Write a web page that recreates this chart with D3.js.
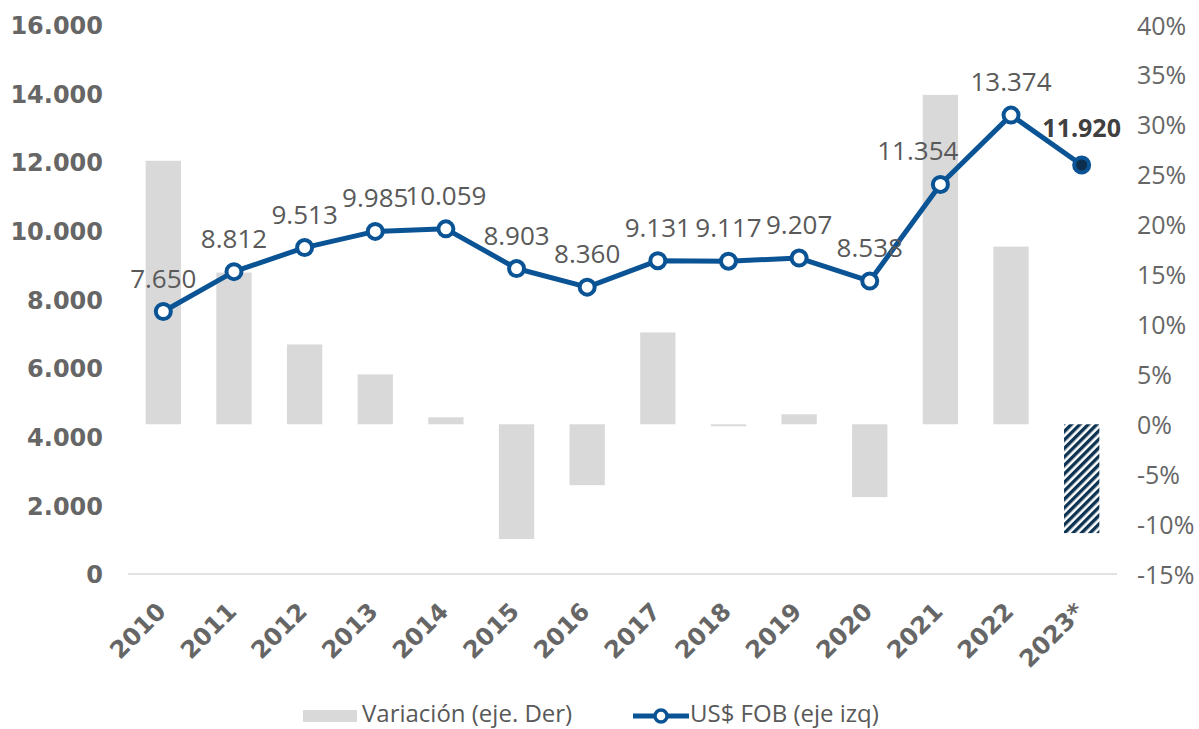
<!DOCTYPE html>
<html><head><meta charset="utf-8">
<script src="https://cdn.jsdelivr.net/npm/d3@7"></script>
<style>body{margin:0;background:#fff}svg{display:block}</style>
</head><body>
<svg id="c" width="1199" height="729"></svg>
<script>
const years = ["2010","2011","2012","2013","2014","2015","2016","2017","2018","2019","2020","2021","2022","2023*"];
const fob = [7650,8812,9513,9985,10059,8903,8360,9131,9117,9207,8538,11354,13374,11920];
const variacion = [26.4,15.2,8.0,5.0,0.7,-11.5,-6.1,9.2,-0.2,1.0,-7.3,33.0,17.8,-10.9];
const leftTicks = [0,2000,4000,6000,8000,10000,12000,14000,16000];
const rightTicks = [-15,-10,-5,0,5,10,15,20,25,30,35,40];

const svg = d3.select("#c");
const BOLD = "DejaVu Sans, sans-serif";
const LIGHT = "Open Sans, sans-serif";
const x = d3.scaleBand().domain(years).range([128,1117]).paddingInner(0.5).paddingOuter(0.25);
const yL = d3.scaleLinear().domain([0,16000]).range([574,25]);
const yR = d3.scaleLinear().domain([-15,40]).range([574,25]);
const fmt = v => d3.format(",")(v).replace(/,/g,".");

// hatch pattern
const defs = svg.append("defs");
const pat = defs.append("pattern").attr("id","hatch").attr("patternUnits","userSpaceOnUse")
  .attr("width",6).attr("height",6).attr("patternTransform","rotate(45)");
pat.append("rect").attr("width",6).attr("height",6).attr("fill","#fff");
pat.append("rect").attr("width",3.4).attr("height",6).attr("fill","#0d3352");

// bars
svg.append("g").selectAll("rect").data(years).join("rect")
  .attr("x",d=>x(d)).attr("width",x.bandwidth())
  .attr("y",(d,i)=>yR(Math.max(0,variacion[i])))
  .attr("height",(d,i)=>Math.max(1,Math.abs(yR(variacion[i])-yR(0))))
  .attr("fill",(d,i)=>i===years.length-1?"url(#hatch)":"#d9d9d9");

// x axis line
svg.append("line").attr("x1",128).attr("x2",1117).attr("y1",yL(0)).attr("y2",yL(0))
  .attr("stroke","#d9d9d9").attr("stroke-width",1.5);

// left axis
const la = svg.append("g").attr("transform","translate(103,0)")
  .call(d3.axisLeft(yL).tickValues(leftTicks).tickFormat(fmt).tickSize(0).tickPadding(0));
la.select(".domain").remove();
la.selectAll("text").attr("font-family",BOLD).attr("font-weight","bold").attr("font-size",24)
  .attr("fill","#666").attr("dy","0.36em");

// right axis
const ra = svg.append("g").attr("transform","translate(1137,0)")
  .call(d3.axisRight(yR).tickValues(rightTicks).tickFormat(d=>d+"%").tickSize(0).tickPadding(0));
ra.select(".domain").remove();
ra.selectAll("text").attr("font-family",LIGHT).attr("font-size",25).attr("fill","#666").attr("dy","0.36em");

// x labels
const xa = svg.append("g").attr("transform",`translate(0,${yL(0)})`)
  .call(d3.axisBottom(x).tickSize(0).tickPadding(0));
xa.select(".domain").remove();
xa.selectAll("text").attr("font-family",BOLD).attr("font-weight","bold").attr("font-size",24)
  .attr("fill","#666").attr("text-anchor","end").attr("y",0).attr("dy",0)
  .attr("transform","translate(4,39) rotate(-45)");

// line
const cx = d => x(d)+x.bandwidth()/2;
const line = d3.line().x((d,i)=>cx(years[i])).y(d=>yL(d));
svg.append("path").datum(fob).attr("d",line).attr("fill","none")
  .attr("stroke","#0a5394").attr("stroke-width",5).attr("stroke-linejoin","round");
svg.append("g").selectAll("circle").data(fob).join("circle")
  .attr("cx",(d,i)=>cx(years[i])).attr("cy",d=>yL(d)).attr("r",7.5)
  .attr("fill",(d,i)=>i===fob.length-1?"#0d2f4d":"#fff")
  .attr("stroke","#0a5394").attr("stroke-width",4);

// data labels
const last = fob.length-1;
svg.append("g").selectAll("text").data(fob).join("text")
  .attr("x",(d,i)=>years[i]==="2021"?cx(years[i])+18:cx(years[i]))
  .attr("y",(d,i)=>i===last?yL(d)-28:yL(d)-24)
  .attr("text-anchor",(d,i)=>years[i]==="2021"?"end":"middle")
  .attr("font-family",LIGHT)
  .attr("font-size",(d,i)=>i===last?25:26)
  .attr("font-weight",(d,i)=>i===last?"bold":"normal")
  .attr("fill",(d,i)=>i===last?"#404040":"#595959")
  .text(fmt);

// legend
const lg = svg.append("g");
lg.append("rect").attr("x",303).attr("y",710).attr("width",54).attr("height",12).attr("fill","#d9d9d9");
lg.append("text").attr("x",362).attr("y",722).attr("font-family",LIGHT)
  .attr("font-size",24).attr("fill","#595959").text("Variación (eje. Der)");
lg.append("line").attr("x1",633).attr("x2",689).attr("y1",716).attr("y2",716)
  .attr("stroke","#0a5394").attr("stroke-width",5);
lg.append("circle").attr("cx",661).attr("cy",716).attr("r",6).attr("fill","#fff")
  .attr("stroke","#0a5394").attr("stroke-width",3.5);
lg.append("text").attr("x",690).attr("y",722).attr("font-family",LIGHT)
  .attr("font-size",24).attr("fill","#595959").text("US$ FOB (eje izq)");
</script>
</body></html>
